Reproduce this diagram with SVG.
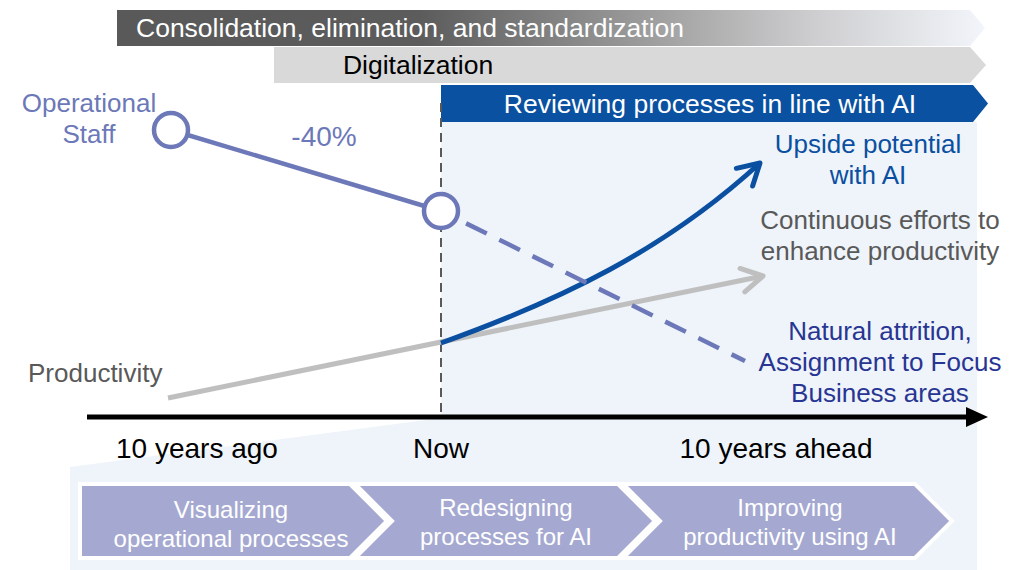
<svg xmlns="http://www.w3.org/2000/svg" width="1009" height="570" viewBox="0 0 1009 570">
<defs>
<linearGradient id="gradCons" x1="117" y1="0" x2="985" y2="0" gradientUnits="userSpaceOnUse">
<stop offset="0" stop-color="#595959"/>
<stop offset="0.35" stop-color="#5c5c5c"/>
<stop offset="0.6" stop-color="#9a9a9a"/>
<stop offset="0.8" stop-color="#cdcdcf"/>
<stop offset="1" stop-color="#f2f5fa"/>
</linearGradient>
<marker id="arrGray" markerUnits="userSpaceOnUse" viewBox="0 0 30 30" markerWidth="30" markerHeight="30" refX="24" refY="15" orient="auto">
<path d="M3,3 L24,15 L3,27" fill="none" stroke="#BFBFBF" stroke-width="5" stroke-linecap="round" stroke-linejoin="round"/>
</marker>
<marker id="arrBlue" markerUnits="userSpaceOnUse" viewBox="0 0 30 30" markerWidth="30" markerHeight="30" refX="24" refY="15" orient="auto">
<path d="M3,3 L24,15 L3,27" fill="none" stroke="#0B4FA0" stroke-width="5" stroke-linecap="round" stroke-linejoin="round"/>
</marker>
</defs>
<style>
text{font-family:"Liberation Sans",Arial,sans-serif;}
.t26{font-size:26px;}
.bar{font-size:26.5px;}
.ax{font-size:28px;fill:#000;text-anchor:middle;}
.chev{fill:#A5A9D1;stroke:#fff;stroke-width:4;stroke-linejoin:miter;}
.chevt{font-size:24px;fill:#fff;text-anchor:middle;}
.staff{fill:#6C78B8;}
.gtxt{fill:#595959;}
.navy{fill:#283593;}
.blue{fill:#0B4FA0;}
.mid{text-anchor:middle;}
</style>
<rect width="1009" height="570" fill="#fff"/>
<g id="background">
<polygon points="441,122 977,122 977,570 70,570 70,467 441,418" fill="#EEF4FA"/>
</g>
<g id="bar-consolidation">
<polygon points="117,10 970,10 985,28 970,46 117,46" fill="url(#gradCons)"/>
<text x="136" y="37" class="bar" fill="#fff">Consolidation, elimination, and standardization</text>
</g>
<g id="bar-digitalization">
<polygon points="274,47 970,47 986,65 970,83 274,83" fill="#D9D9D9"/>
<text x="418" y="74" class="bar mid" fill="#000">Digitalization</text>
</g>
<g id="bar-reviewing">
<polygon points="441,85 973,85 988,103.5 973,122 441,122" fill="#0B51A1"/>
<text x="710" y="113" class="bar mid" fill="#fff">Reviewing processes in line with AI</text>
</g>
<g id="connectors">
<line id="now-line" x1="441" y1="103" x2="441" y2="417" stroke="#595959" stroke-width="2" stroke-dasharray="9 6"/>
<line id="time-axis" x1="87" y1="417" x2="970" y2="417" stroke="#000" stroke-width="5"/>
<polygon points="966,407 988,417 966,427" fill="#000"/>
<line id="productivity-line" x1="168" y1="398" x2="763" y2="276" stroke="#BFBFBF" stroke-width="5" marker-end="url(#arrGray)"/>
<path id="ai-curve" d="M441,343 C561,300 665,250 760,163" fill="none" stroke="#0B4FA0" stroke-width="5" marker-end="url(#arrBlue)"/>
<line id="staff-solid" x1="171" y1="130" x2="441" y2="211" stroke="#6C78B8" stroke-width="4.5"/>
<line id="staff-dashed" x1="441" y1="211" x2="745" y2="361" stroke="#6C78B8" stroke-width="4.5" stroke-dasharray="23 14" stroke-dashoffset="9"/>
</g>
<g id="node-staff-past">
<circle cx="171" cy="130" r="17" fill="#fff" stroke="#6C78B8" stroke-width="4.5"/>
</g>
<g id="node-staff-now">
<circle cx="441" cy="211" r="17" fill="#fff" stroke="#6C78B8" stroke-width="4.5"/>
</g>
<g id="labels">
<text class="t26 staff mid" x="89" y="112">Operational</text>
<text class="t26 staff mid" x="89" y="143">Staff</text>
<text class="staff mid" x="324" y="146" font-size="28">-40%</text>
<text class="t26 gtxt" x="28" y="382">Productivity</text>
<text class="t26 blue mid" x="868" y="153">Upside potential</text>
<text class="t26 blue mid" x="868" y="184">with AI</text>
<text class="t26 gtxt mid" x="880" y="229">Continuous efforts to</text>
<text class="t26 gtxt mid" x="880" y="260">enhance productivity</text>
<text class="t26 navy mid" x="880" y="340">Natural attrition,</text>
<text class="t26 navy mid" x="880" y="371">Assignment to Focus</text>
<text class="t26 navy mid" x="880" y="402">Business areas</text>
<text class="ax" x="197" y="458">10 years ago</text>
<text class="ax" x="441" y="458">Now</text>
<text class="ax" x="776" y="458">10 years ahead</text>
</g>
<g id="step-visualizing">
<polygon class="chev" points="80,484 350,484 387,521 350,558 80,558"/>
<text class="chevt" x="231" y="518">Visualizing</text>
<text class="chevt" x="231" y="547">operational processes</text>
</g>
<g id="step-redesigning">
<polygon class="chev" points="355,484 618,484 655,521 618,558 355,558 392,521"/>
<text class="chevt" x="506" y="516">Redesigning</text>
<text class="chevt" x="506" y="545">processes for AI</text>
</g>
<g id="step-improving">
<polygon class="chev" points="623,484 915,484 952,521 915,558 623,558 660,521"/>
<text class="chevt" x="790" y="516">Improving</text>
<text class="chevt" x="790" y="545">productivity using AI</text>
</g>
</svg>
